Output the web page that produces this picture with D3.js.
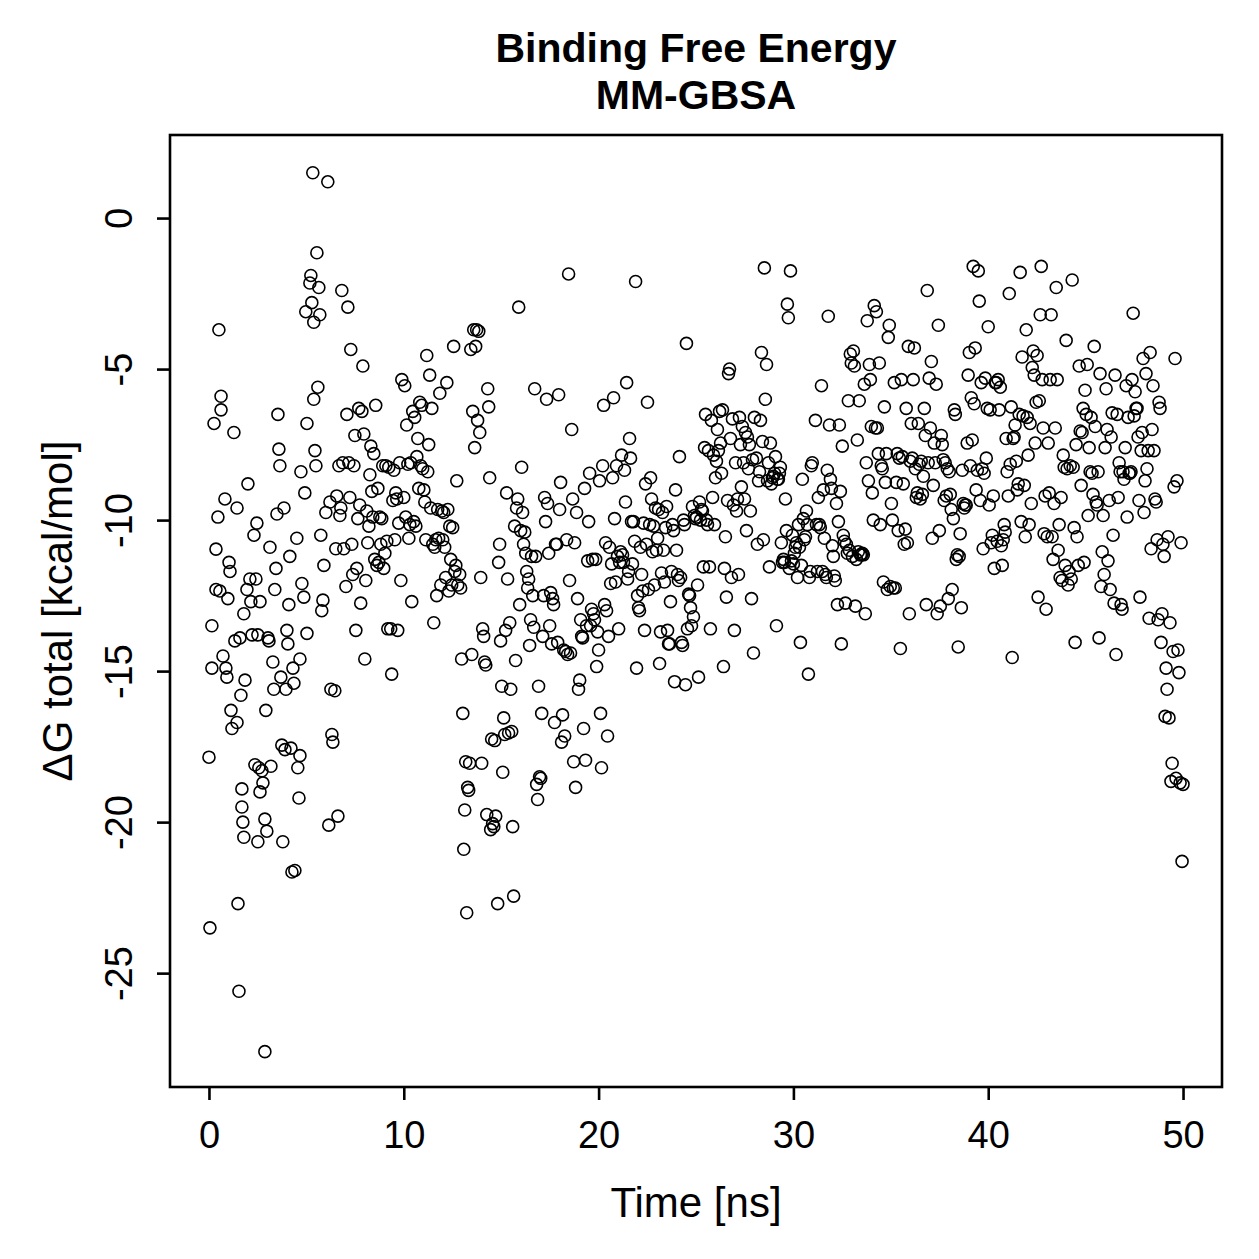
<!DOCTYPE html>
<html lang="en">
<head>
    <meta charset="UTF-8">
    <title>Binding Free Energy MM-GBSA</title>
    <script src="https://d3js.org/d3.v7.min.js"></script>
    <style>
        body { margin: 0; background: #fff; }
        text { font-family: "Liberation Sans", Arial, Helvetica, sans-serif; fill: #000; }
    </style>
</head>
<body>
    <div id="chart"></div>
    <script>
        // Title and axis labels
        var titleLines = ["Binding Free Energy", "MM-GBSA"];
        var xLabel = "Time [ns]";
        var yLabel = "\u0394G total [kcal/mol]";

        // Tick values
        var xTicks = [0, 10, 20, 30, 40, 50];
        var yTicks = [0, -5, -10, -15, -20, -25];

        // Time of each frame (ns)
        var timeNs = [
            0.00,0.05,0.15,0.15,0.26,0.36,0.36,0.46,0.51,0.56,0.62,0.62,0.72,0.82,0.87,0.92,0.97,1.03,1.08,1.13,1.18,1.28,1.33,1.44,1.44,1.49,1.54,1.59,1.64,1.69,1.69,1.74,1.79,1.79,1.85,1.95,2.00,
            2.10,2.15,2.21,2.31,2.36,2.41,2.46,2.51,2.51,2.56,2.62,2.62,2.72,2.77,2.87,2.87,2.92,2.97,3.03,3.08,3.13,3.18,3.28,3.33,3.38,3.44,3.49,3.54,3.59,3.64,3.69,3.74,3.79,3.85,3.90,3.95,4.00,4.05,4.10,4.15,4.21,4.26,4.31,4.36,4.41,4.51,4.56,4.62,4.67,4.67,4.72,4.77,4.87,4.92,4.97,5.03,5.03,
            5.18,5.23,5.28,5.33,5.38,5.38,5.44,5.49,5.54,5.59,5.64,5.69,5.74,5.79,5.85,5.90,6.00,6.10,6.15,6.21,6.26,6.31,6.36,6.46,6.51,6.56,6.62,6.67,6.72,6.77,6.82,6.87,6.92,7.03,7.08,7.13,7.18,7.23,7.28,7.33,7.38,7.44,7.49,7.54,7.59,7.64,7.69,7.74,7.79,7.85,7.90,7.95,8.00,
            8.05,8.10,8.15,8.21,8.26,8.31,8.36,8.41,8.46,8.51,8.56,8.62,8.67,8.72,8.77,8.82,8.87,8.92,8.97,9.03,9.08,9.13,9.18,9.23,9.33,9.38,9.44,9.49,9.54,9.59,9.64,9.69,9.74,9.79,9.85,9.90,10.00,
            10.05,10.10,10.15,10.21,10.26,10.31,10.36,10.41,10.46,10.51,10.56,10.62,10.67,10.72,10.77,10.82,10.87,10.92,10.97,11.03,11.08,11.13,11.18,11.23,11.28,11.33,11.38,11.44,11.49,11.54,11.59,11.64,11.69,11.74,11.79,11.85,11.90,11.95,12.00,12.05,12.10,12.15,12.21,12.26,12.31,12.36,12.41,12.46,12.51,12.56,12.62,12.67,12.72,12.77,12.87,12.92,
            12.97,13.03,13.08,13.13,13.18,13.23,13.28,13.33,13.38,13.44,13.49,13.54,13.59,13.64,13.69,13.74,13.79,13.85,13.90,13.95,14.00,14.05,14.10,14.15,14.21,14.26,14.31,14.36,14.41,14.46,14.51,14.56,14.62,14.67,14.72,14.82,14.87,14.92,14.97,15.03,15.08,15.13,15.18,15.23,15.28,15.33,15.38,15.44,15.49,15.54,15.59,15.64,15.69,15.74,15.79,15.85,15.90,15.95,16.00,
            16.05,16.10,16.15,16.21,16.26,16.31,16.36,16.41,16.46,16.51,16.56,16.62,16.67,16.72,16.77,16.82,16.87,16.92,16.97,17.03,17.08,17.13,17.18,17.23,17.28,17.33,17.38,17.44,17.49,17.54,17.59,17.64,17.69,17.74,17.79,17.85,17.90,17.95,18.00,18.05,18.10,18.15,18.21,18.26,18.31,18.36,18.41,18.46,18.51,18.56,18.62,18.67,18.72,18.77,18.82,18.87,18.92,
            18.97,19.03,19.08,19.13,19.18,19.23,19.28,19.33,19.38,19.44,19.49,19.54,19.59,19.64,19.69,19.74,19.79,19.85,19.90,19.95,20.00,20.05,20.10,20.15,20.21,20.26,20.31,20.36,20.41,20.46,20.51,20.56,20.62,20.67,20.72,20.77,20.82,20.87,20.92,20.97,21.03,21.08,21.13,21.18,21.23,21.28,21.33,21.38,21.44,21.49,21.54,21.59,21.64,21.69,21.74,21.79,21.85,21.90,21.95,22.00,
            22.05,22.10,22.15,22.21,22.26,22.31,22.36,22.41,22.46,22.51,22.56,22.62,22.67,22.72,22.77,22.82,22.87,22.92,22.97,23.03,23.08,23.13,23.18,23.23,23.28,23.33,23.38,23.44,23.49,23.54,23.59,23.64,23.69,23.74,23.79,23.85,23.90,23.95,24.00,24.05,24.10,24.15,24.21,24.26,24.31,24.36,24.41,24.46,24.51,24.56,24.62,24.67,24.72,24.77,24.82,24.87,24.92,24.97,
            25.03,25.08,25.13,25.18,25.23,25.28,25.33,25.38,25.44,25.49,25.54,25.59,25.64,25.69,25.74,25.79,25.85,25.90,25.95,26.00,26.05,26.10,26.15,26.21,26.26,26.31,26.36,26.41,26.46,26.51,26.56,26.62,26.67,26.72,26.77,26.82,26.87,26.92,26.97,27.03,27.08,27.13,27.18,27.23,27.28,27.33,27.38,27.44,27.49,27.54,27.59,27.64,27.69,27.74,27.79,27.85,27.90,27.95,28.00,
            28.10,28.15,28.21,28.26,28.31,28.36,28.41,28.46,28.51,28.56,28.62,28.67,28.72,28.77,28.82,28.87,28.92,28.97,29.03,29.08,29.13,29.18,29.23,29.28,29.33,29.38,29.44,29.49,29.54,29.59,29.64,29.69,29.74,29.79,29.85,29.90,29.95,30.00,30.05,30.10,30.15,30.21,30.26,30.31,30.36,30.41,30.46,30.51,30.56,30.62,30.67,30.72,30.77,30.82,30.87,30.92,30.97,
            31.13,31.18,31.23,31.28,31.33,31.38,31.44,31.49,31.54,31.59,31.64,31.69,31.74,31.79,31.85,31.90,31.95,32.00,32.05,32.10,32.15,32.21,32.26,32.31,32.36,32.41,32.46,32.51,32.56,32.62,32.67,32.72,32.77,32.82,32.87,32.92,32.97,33.03,33.08,33.13,33.18,33.23,33.28,33.33,33.38,33.44,33.49,33.54,33.59,33.64,33.69,33.74,33.79,33.85,33.90,33.95,34.00,
            34.05,34.10,34.15,34.21,34.26,34.31,34.36,34.41,34.46,34.51,34.56,34.62,34.67,34.72,34.77,34.82,34.87,34.92,34.97,35.03,35.08,35.13,35.18,35.23,35.28,35.33,35.38,35.44,35.49,35.54,35.59,35.64,35.69,35.74,35.79,35.85,35.90,35.95,36.00,36.05,36.10,36.15,36.21,36.26,36.31,36.36,36.41,36.46,36.51,36.56,36.62,36.67,36.72,36.77,36.82,36.87,36.92,36.97,
            37.03,37.08,37.13,37.18,37.23,37.28,37.33,37.38,37.44,37.49,37.54,37.59,37.64,37.69,37.74,37.79,37.85,37.90,37.95,38.00,38.05,38.10,38.15,38.21,38.26,38.31,38.36,38.41,38.46,38.51,38.56,38.62,38.67,38.72,38.77,38.82,38.87,38.92,38.97,39.03,39.08,39.13,39.18,39.23,39.28,39.33,39.38,39.44,39.49,39.54,39.59,39.64,39.69,39.74,39.79,39.85,39.90,39.95,40.00,
            40.05,40.10,40.15,40.21,40.26,40.31,40.36,40.41,40.46,40.51,40.56,40.62,40.67,40.72,40.77,40.82,40.87,40.92,40.97,41.03,41.08,41.13,41.18,41.23,41.28,41.33,41.38,41.44,41.49,41.54,41.59,41.64,41.69,41.74,41.79,41.85,41.90,41.95,42.00,42.05,42.10,42.15,42.21,42.26,42.31,42.36,42.41,42.46,42.51,42.56,42.62,42.67,42.72,42.77,42.82,42.87,42.92,42.97,43.03,
            43.08,43.13,43.18,43.23,43.28,43.33,43.38,43.44,43.49,43.54,43.59,43.64,43.69,43.74,43.79,43.85,43.90,43.95,44.00,44.05,44.10,44.15,44.21,44.26,44.31,44.36,44.41,44.46,44.51,44.56,44.62,44.67,44.72,44.77,44.82,44.87,44.92,44.97,45.03,45.08,45.13,45.18,45.23,45.28,45.33,45.38,45.44,45.49,45.54,45.59,45.64,45.69,45.74,45.79,45.85,45.90,45.95,46.00,
            46.05,46.10,46.15,46.21,46.26,46.31,46.36,46.41,46.46,46.51,46.56,46.62,46.67,46.72,46.77,46.82,46.87,46.92,46.97,47.03,47.08,47.13,47.18,47.23,47.28,47.33,47.38,47.44,47.49,47.54,47.59,47.64,47.69,47.74,47.79,47.85,47.90,47.95,48.00,48.05,48.10,48.15,48.21,48.26,48.31,48.36,48.41,48.46,48.51,48.56,48.62,48.67,48.72,48.77,48.82,48.87,48.92,48.97,49.03,49.08,49.13,49.18,49.23,49.28,49.33,49.38,49.44,49.49,49.54,49.59,49.64,49.69,49.74,49.79,49.85,49.90,49.95,50.00
        ];

        // Delta G total (kcal/mol) for each frame
        var deltaG = [
            -17.85,-23.5,-13.5,-14.9,-6.8,-10.96,-12.3,-9.9,-3.7,-12.35,-5.9,-6.35,-14.5,-9.3,-14.9,-15.2,-12.6,-11.4,-11.7,-16.3,-16.9,-7.1,-14.0,-9.6,-16.7,-22.7,-25.6,-13.9,-15.8,-18.9,-19.5,-20.0,-20.5,-13.1,-15.3,-12.3,-8.8,
            -11.95,-12.7,-13.8,-10.5,-18.1,-11.95,-10.1,-13.8,-20.65,-18.2,-19.0,-12.7,-18.3,-18.7,-27.6,-19.9,-16.3,-20.3,-13.9,-14.0,-10.9,-18.15,-14.7,-15.6,-12.3,-11.6,-9.8,-6.5,-7.65,-8.2,-15.2,-17.45,-20.65,-9.6,-17.6,-15.6,-13.65,-14.1,-12.8,-11.2,-17.55,-21.65,-14.9,-15.4,-21.6,-10.6,-18.2,-19.2,-17.8,-14.6,-8.4,-12.1,-12.55,-9.1,-3.1,-13.75,-6.8,
            -2.15,-1.9,-2.8,1.5,-3.45,-6.0,-7.7,-8.2,-1.15,-5.6,-2.3,-3.2,-10.5,-13.0,-12.65,-11.5,-9.75,1.2,-20.1,-9.4,-15.6,-17.1,-17.35,-15.65,-10.95,-9.2,-19.8,-8.2,-9.85,-9.6,-2.4,-8.1,-10.95,-12.2,-6.5,-2.95,-8.1,-9.25,-4.35,-10.8,-11.8,-8.2,-7.2,-13.65,-11.6,-9.95,-6.3,-9.5,-12.75,-6.4,-4.9,-7.15,-14.6,
            -12.0,-9.7,-10.75,-10.2,-8.5,-7.55,-9.05,-9.9,-7.8,-11.3,-6.2,-11.5,-8.95,-11.4,-9.9,-10.8,-9.95,-8.2,-11.6,-11.1,-8.2,-10.7,-13.6,-8.25,-13.6,-15.1,-9.35,-8.35,-10.65,-9.1,-9.3,-13.65,-10.1,-8.1,-12.0,-5.35,-9.25,
            -5.55,-9.9,-6.85,-8.15,-10.6,-10.15,-8.1,-12.7,-6.4,-10.05,-6.6,-10.2,-7.9,-7.3,-8.95,-6.1,-8.2,-6.2,-8.3,-9.0,-9.4,-10.65,-4.55,-8.4,-7.5,-5.2,-9.6,-6.3,-10.8,-13.4,-10.9,-10.65,-12.5,-9.65,-10.6,-5.8,-12.15,-9.7,-10.65,-9.75,-10.9,-11.9,-5.45,-9.65,-12.35,-10.2,-11.3,-12.15,-10.25,-4.25,-11.7,-11.5,-8.7,-12.15,-11.8,-12.25,
            -14.6,-16.4,-20.9,-19.6,-18.0,-23.0,-18.85,-18.95,-18.05,-4.35,-14.45,-6.4,-3.7,-7.6,-4.25,-3.7,-6.7,-3.75,-7.1,-11.9,-18.05,-13.6,-13.85,-14.7,-14.8,-19.75,-5.65,-6.25,-8.6,-20.25,-17.25,-20.05,-20.15,-17.3,-19.8,-22.7,-11.4,-10.8,-14.0,-15.5,-18.35,-16.55,-17.1,-13.65,-9.1,-11.95,-17.05,-13.4,-15.6,-17.0,-20.15,-22.45,-10.2,-14.65,-9.6,-9.3,-2.95,-12.8,-10.35,
            -8.25,-9.75,-10.8,-10.4,-11.1,-11.7,-12.25,-11.95,-14.15,-13.3,-11.2,-12.5,-13.55,-5.65,-11.2,-18.75,-19.25,-15.5,-18.5,-18.55,-16.4,-13.85,-12.5,-9.25,-10.05,-6.0,-9.45,-11.1,-13.5,-12.4,-14.1,-12.6,-12.8,-16.7,-10.8,-10.8,-14.05,-5.85,-9.65,-8.75,-17.35,-16.45,-14.3,-17.15,-14.35,-10.65,-14.45,-1.85,-12.0,-14.4,-7.0,-9.3,-18.0,-10.75,-18.85,-9.75,-12.6,
            -15.6,-15.3,-13.3,-13.85,-13.9,-16.9,-8.95,-17.95,-13.5,-11.35,-10.05,-8.45,-13.5,-12.95,-11.3,-13.1,-13.3,-11.3,-14.85,-13.7,-14.3,-8.7,-16.4,-18.2,-8.2,-6.2,-12.8,-10.75,-13.0,-17.15,-13.85,-10.9,-12.1,-11.45,-8.6,-5.95,-9.95,-12.05,-8.2,-11.2,-13.6,-11.4,-11.05,-7.85,-11.15,-11.4,-8.35,-9.4,-5.45,-11.95,-11.7,-7.3,-7.95,-10.05,-11.45,-10.05,-10.7,-2.1,-14.9,-12.5,
            -12.9,-13.0,-10.9,-11.8,-12.35,-10.1,-13.65,-8.8,-10.8,-6.1,-12.3,-10.15,-8.6,-9.3,-11.05,-10.2,-12.15,-9.6,-11.0,-10.6,-9.65,-14.75,-13.7,-11.75,-9.75,-11.0,-12.05,-10.25,-9.55,-13.65,-14.1,-14.1,-12.7,-11.7,-10.15,-10.35,-15.35,-9.0,-11.0,-11.8,-12.0,-7.9,-11.9,-14.05,-14.15,-10.0,-10.15,-15.45,-4.15,-13.6,-12.45,-12.5,-12.9,-13.5,-9.55,-13.2,-9.85,-9.95,
            -9.9,-12.15,-15.2,-9.4,-10.0,-9.65,-9.7,-11.55,-7.6,-6.5,-10.0,-10.15,-7.7,-11.55,-13.6,-6.7,-9.25,-7.85,-10.15,-8.6,-8.05,-7.0,-7.7,-6.4,-7.45,-8.45,-6.35,-14.85,-11.6,-10.55,-12.55,-9.35,-5.15,-5.0,-7.3,-11.9,-6.65,-9.5,-13.65,-8.1,-9.7,-9.3,-11.8,-6.6,-7.5,-8.9,-6.9,-8.1,-9.3,-7.1,-10.35,-7.25,-8.3,-7.5,-9.7,-12.6,-8.0,-14.4,-6.6,
            -7.95,-10.8,-8.7,-8.4,-6.7,-4.45,-7.4,-10.65,-1.65,-6.0,-4.85,-8.7,-8.1,-11.55,-7.45,-8.8,-8.6,-8.55,-8.45,-7.9,-13.5,-8.65,-8.65,-8.45,-8.25,-10.75,-11.4,-11.3,-11.4,-9.3,-10.35,-2.85,-3.3,-11.6,-1.75,-11.35,-10.5,-11.45,-11.1,-10.9,-10.75,-11.9,-10.15,-10.9,-14.05,-11.5,-8.65,-9.95,-10.65,-10.55,-9.7,-10.15,-15.1,-11.9,-11.7,-8.2,-8.1,
            -6.7,-10.15,-11.7,-9.25,-10.15,-10.25,-5.55,-11.7,-9.0,-10.6,-11.8,-11.9,-8.35,-3.25,-6.85,-8.65,-8.95,-10.85,-11.2,-11.85,-12.0,-9.45,-12.8,-10.05,-6.85,-9.05,-14.1,-7.55,-10.5,-10.7,-12.75,-10.8,-11.1,-6.05,-11.0,-4.5,-4.8,-11.2,-4.4,-4.9,-12.85,-11.3,-7.35,-11.05,-6.05,-11.15,-11.15,-11.1,-11.15,-5.5,-13.1,-8.1,-3.4,-8.7,-4.85,-5.35,-6.9,
            -9.1,-10.0,-2.9,-6.95,-3.1,-6.95,-7.8,-4.8,-10.15,-8.2,-8.3,-12.05,-6.25,-8.75,-7.8,-12.3,-3.95,-3.55,-12.2,-9.45,-10.0,-12.25,-5.45,-12.25,-8.75,-7.8,-10.35,-7.95,-14.25,-5.35,-7.9,-8.8,-10.8,-10.3,-6.3,-10.75,-4.25,-13.1,-8.05,-6.8,-7.95,-5.35,-4.3,-8.3,-9.25,-9.1,-6.8,-8.15,-9.3,-8.05,-9.15,-8.55,-6.3,-7.2,-12.8,-2.4,-8.1,-5.3,
            -6.95,-4.75,-10.6,-8.85,-7.45,-8.1,-5.5,-13.1,-3.55,-10.35,-12.85,-7.2,-7.5,-8.0,-9.35,-8.1,-9.2,-8.3,-12.6,-8.4,-9.15,-9.65,-12.3,-9.95,-6.35,-6.5,-11.3,-11.15,-14.2,-11.2,-10.45,-12.9,-8.35,-9.45,-9.6,-9.5,-9.5,-7.45,-5.2,-4.45,-8.2,-5.95,-7.35,-1.6,-6.15,-4.3,-9.0,-8.35,-1.75,-2.75,-9.35,-5.45,-8.3,-10.95,-8.45,-5.3,-7.95,-6.3,-3.6,
            -9.5,-6.35,-10.75,-10.5,-9.2,-11.6,-5.45,-5.45,-10.7,-5.35,-6.35,-5.6,-10.85,-11.5,-10.65,-10.15,-10.4,-7.3,-8.4,-9.2,-2.5,-8.15,-6.25,-14.55,-7.3,-7.25,-6.85,-8.05,-9.0,-8.8,-6.5,-1.8,-10.05,-4.6,-6.55,-8.85,-10.55,-3.7,-6.6,-7.85,-10.15,-6.8,-9.45,-4.95,-4.4,-5.2,-7.45,-6.1,-4.55,-12.55,-6.05,-3.2,-1.6,-5.35,-6.95,-10.45,-9.2,-12.95,-10.55,
            -7.45,-9.1,-5.35,-3.2,-10.55,-11.3,-9.45,-6.95,-2.3,-5.35,-11.0,-10.15,-11.9,-9.25,-12.0,-7.85,-8.25,-11.5,-4.05,-8.3,-12.15,-11.7,-8.2,-11.95,-2.05,-8.25,-10.25,-14.05,-7.5,-10.55,-11.5,-4.9,-7.05,-8.85,-7.1,-6.3,-11.4,-5.7,-6.5,-4.85,-9.85,-7.6,-8.4,-6.6,-8.45,-9.15,-4.25,-6.9,-9.4,-9.5,-8.4,-13.9,-5.15,-12.2,-11.05,-9.85,-11.8,-7.6,
            -5.65,-7.0,-11.35,-9.35,-12.3,-7.25,-6.45,-10.5,-12.75,-5.2,-14.45,-6.5,-9.25,-8.1,-8.4,-12.8,-12.95,-8.4,-8.65,-7.6,-5.55,-9.9,-6.6,-8.45,-8.45,-8.4,-5.35,-3.15,-6.55,-5.75,-6.3,-6.3,-7.25,-9.35,-12.55,-7.7,-7.1,-4.65,-9.75,-8.7,-5.15,-8.3,-7.7,-13.25,-4.45,-10.95,-7.0,-5.55,-7.7,-9.3,-9.4,-10.65,-13.3,-6.1,-6.3,-14.05,-13.1,-10.8,-11.2,-16.5,-14.9,-15.6,-10.55,-16.55,-13.4,-18.65,-18.05,-14.35,-8.9,-4.65,-18.55,-8.7,-14.3,-15.05,-18.7,-10.75,-21.3,-18.75
        ];

        var points = timeNs.map(function(t, i) { return { t: t, g: deltaG[i] }; });

        // Page and plot region
        var width = 1259, height = 1259;
        var plot = { left: 170, right: 1222, top: 135, bottom: 1087 };

        var svg = d3.select("#chart")
            .append("svg")
            .attr("width", width)
            .attr("height", height);

        // R-style scales: data range padded by 4% on each side
        var x = d3.scaleLinear().domain([-2, 52]).range([plot.left, plot.right]);
        var y = d3.scaleLinear().domain([-28.77, 2.75]).range([plot.bottom, plot.top]);

        // Points (open circles, like pch = 1)
        svg.append("g")
            .selectAll("circle")
            .data(points)
            .enter().append("circle")
            .attr("cx", function(d) { return x(d.t); })
            .attr("cy", function(d) { return y(d.g); })
            .attr("r", 6)
            .attr("fill", "none")
            .attr("stroke", "#000")
            .attr("stroke-width", 1.6);

        // Box around the plot
        svg.append("rect")
            .attr("x", plot.left)
            .attr("y", plot.top)
            .attr("width", plot.right - plot.left)
            .attr("height", plot.bottom - plot.top)
            .attr("fill", "none")
            .attr("stroke", "#000")
            .attr("stroke-width", 2.6);

        // Bottom axis
        var xAxis = svg.append("g")
            .attr("transform", "translate(0," + plot.bottom + ")")
            .call(d3.axisBottom(x).tickValues(xTicks).tickSize(13).tickFormat(function(d) { return String(d); }));
        xAxis.select(".domain").remove();
        xAxis.selectAll("line").attr("stroke-width", 2.6);
        xAxis.selectAll("text")
            .attr("y", 61)
            .attr("dy", 0)
            .attr("font-size", 38)
            .style("font-family", "'Liberation Sans', Arial, sans-serif");

        // Left axis, labels turned like R's las = 0
        var yAxis = svg.append("g")
            .attr("transform", "translate(" + plot.left + ",0)")
            .call(d3.axisLeft(y).tickValues(yTicks).tickSize(13).tickFormat(function(d) { return String(d); }));
        yAxis.select(".domain").remove();
        yAxis.selectAll("line").attr("stroke-width", 2.6);
        yAxis.selectAll("text")
            .attr("x", 0)
            .attr("y", 0)
            .attr("dy", 0)
            .attr("font-size", 38)
            .style("font-family", "'Liberation Sans', Arial, sans-serif")
            .attr("text-anchor", "middle")
            .attr("transform", "translate(-38,0) rotate(-90)");

        // Title
        var cx = (plot.left + plot.right) / 2;
        svg.selectAll(".title")
            .data(titleLines)
            .enter().append("text")
            .attr("class", "title")
            .attr("x", cx)
            .attr("y", function(d, i) { return 62 + i * 47; })
            .attr("text-anchor", "middle")
            .attr("font-size", 41)
            .attr("font-weight", "bold")
            .text(function(d) { return d; });

        // Axis titles
        svg.append("text")
            .attr("x", cx)
            .attr("y", 1217)
            .attr("text-anchor", "middle")
            .attr("font-size", 42)
            .text(xLabel);

        svg.append("text")
            .attr("transform", "translate(72," + ((plot.top + plot.bottom) / 2) + ") rotate(-90)")
            .attr("text-anchor", "middle")
            .attr("font-size", 42)
            .text(yLabel);
    </script>
</body>
</html>
